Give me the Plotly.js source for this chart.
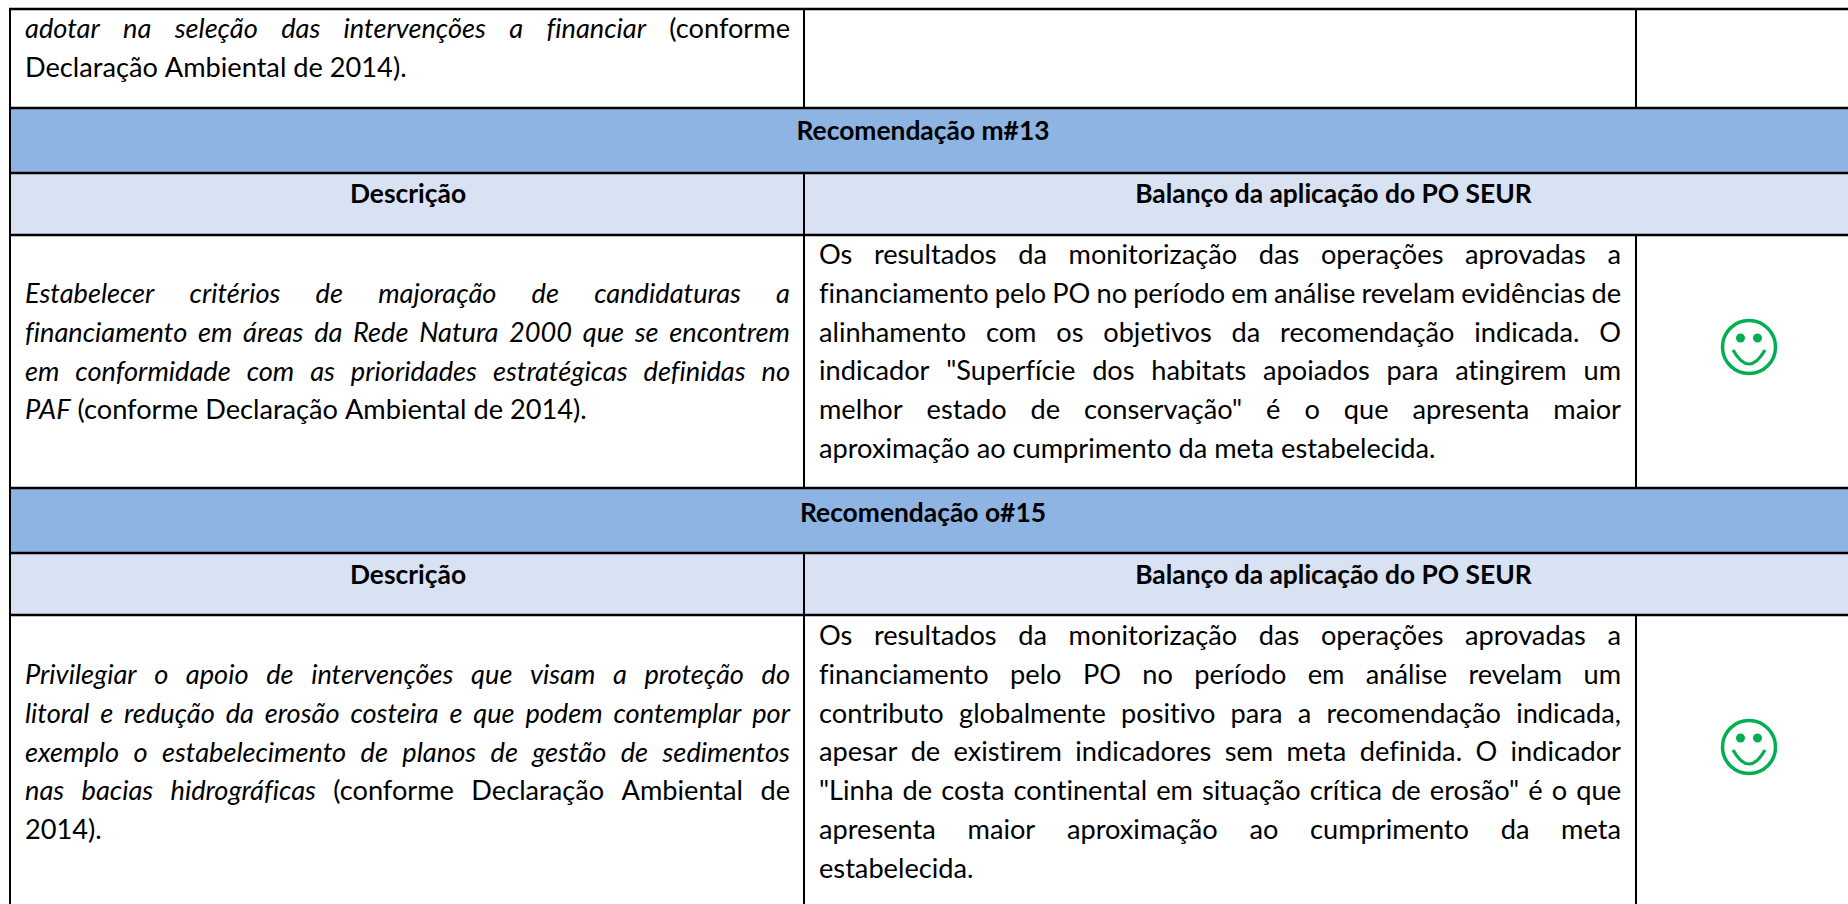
<!DOCTYPE html>
<html>
<head>
<meta charset="utf-8">
<script src="https://cdn.plot.ly/plotly-3.0.0.min.js"></script>
<style>html,body{margin:0;padding:0;background:#fff;overflow:hidden}#chart{width:1848px;height:904px}#chart text{font-variant-ligatures:none !important}</style>
</head>
<body>
<div id="chart"></div>
<script>
// ---- Table content ----
const sectionTitles = ["Recomendação m#13", "Recomendação o#15"];
const columnHeaders = ["Descrição", "Balanço da aplicação do PO SEUR"];

const topLeftLines = [
  "adotar na seleção das intervenções a financiar (conforme",
  "Declaração Ambiental de 2014)."
];
const topLeftItalicWords = [7, 0];

const m13DescriptionLines = [
  "Estabelecer critérios de majoração de candidaturas a",
  "financiamento em áreas da Rede Natura 2000 que se encontrem",
  "em conformidade com as prioridades estratégicas definidas no",
  "PAF (conforme Declaração Ambiental de 2014)."
];
const m13DescriptionItalicWords = [7, 10, 8, 1];

const m13BalanceLines = [
  "Os resultados da monitorização das operações aprovadas a",
  "financiamento pelo PO no período em análise revelam evidências de",
  "alinhamento com os objetivos da recomendação indicada. O",
  "indicador \"Superfície dos habitats apoiados para atingirem um",
  "melhor estado de conservação\" é o que apresenta maior",
  "aproximação ao cumprimento da meta estabelecida."
];

const o15DescriptionLines = [
  "Privilegiar o apoio de intervenções que visam a proteção do",
  "litoral e redução da erosão costeira e que podem contemplar por",
  "exemplo o estabelecimento de planos de gestão de sedimentos",
  "nas bacias hidrográficas (conforme Declaração Ambiental de",
  "2014)."
];
const o15DescriptionItalicWords = [10, 12, 9, 3, 0];

const o15BalanceLines = [
  "Os resultados da monitorização das operações aprovadas a",
  "financiamento pelo PO no período em análise revelam um",
  "contributo globalmente positivo para a recomendação indicada,",
  "apesar de existirem indicadores sem meta definida. O indicador",
  "\"Linha de costa continental em situação crítica de erosão\" é o que",
  "apresenta maior aproximação ao cumprimento da meta",
  "estabelecida."
];

// ---- Geometry and style (pixel scale of the hidden axes) ----
const W = 1848, H = 904;
const tableLeft = 10, colSplit = 804, iconSplit = 1636;
const rowLines = {top: 9, band1: 108, head1: 173, body1: 235, band2: 488, head2: 553, body2: 615};
const colText = {l1: 25, r1: 790, l2: 819, r2: 1621};
const centers = {title: 923, c1: 408, c2: 1333.5, icon: 1749};
const FONT = 'Lato, Carlito, Calibri, sans-serif';
const FS = 27.2, FS_BOLD = 26.4, INK = '#000000', GREEN = '#00B050';
const BAND = '#8EB4E3', HEAD = '#D9E2F3';
const BASE_SHIFT = 0.2; // baseline offset of a "middle" text point, in em

const ctx = document.createElement('canvas').getContext('2d');
function measure(t, style, weight) {
  ctx.font = `${style||'normal'} ${weight||'normal'} ${FS}px Lato`;
  ctx.letterSpacing = '0.001px';
  return ctx.measureText(t).width;
}

const regular = {x: [], y: [], text: []};
const italic = {x: [], y: [], text: []};

function addBlock(lines, italicCounts, left, right, firstBaseline, step) {
  lines.forEach((line, li) => {
    const words = line.split(' ');
    const nItalic = italicCounts ? italicCounts[li] : 0;
    const widths = words.map((w, i) => measure(w, i < nItalic ? 'italic' : 'normal'));
    const total = widths.reduce((a, b) => a + b, 0);
    const last = li === lines.length - 1;
    const gap = last || words.length < 2 ? measure(' ') : (right - left - total) / (words.length - 1);
    let x = left;
    const y = firstBaseline + step * li - BASE_SHIFT * FS;
    words.forEach((w, i) => {
      const target = i < nItalic ? italic : regular;
      target.x.push(x); target.y.push(y); target.text.push(w);
      x += widths[i] + gap;
    });
  });
}

const STEP = 38.7;
addBlock(topLeftLines, topLeftItalicWords, colText.l1, colText.r1, 37, STEP);
addBlock(m13DescriptionLines, m13DescriptionItalicWords, colText.l1, colText.r1, 302, STEP);
addBlock(m13BalanceLines, null, colText.l2, colText.r2, 263, STEP);
addBlock(o15DescriptionLines, o15DescriptionItalicWords, colText.l1, colText.r1, 683, STEP);
addBlock(o15BalanceLines, null, colText.l2, colText.r2, 644, STEP);

const boldX = [centers.title, centers.c1, centers.c2, centers.title, centers.c1, centers.c2];
const boldBase = [139, 202, 202, 521, 583, 583];
const boldText = [sectionTitles[0], columnHeaders[0], columnHeaders[1], sectionTitles[1], columnHeaders[0], columnHeaders[1]];

function textTrace(d, style, pos, weight, size) {
  return {
    type: 'scatter', mode: 'text', x: d.x, y: d.y, text: d.text,
    textposition: pos, hoverinfo: 'skip', showlegend: false, cliponaxis: false,
    textfont: {family: FONT, size: size, color: INK, style: style, weight: weight}
  };
}

const traces = [
  textTrace(regular, 'normal', 'middle right', 400, FS),
  textTrace(italic, 'italic', 'middle right', 400, FS),
  textTrace({x: boldX, y: boldBase.map(b => b - BASE_SHIFT * FS_BOLD), text: boldText}, 'normal', 'middle center', 700, FS_BOLD)
];

const shapes = [];
function rect(x0, y0, x1, y1, fill) {
  shapes.push({type: 'rect', xref: 'x', yref: 'y', x0, y0, x1, y1, fillcolor: fill, line: {width: 0}, layer: 'below'});
}
function line(x0, y0, x1, y1, w) {
  shapes.push({type: 'line', xref: 'x', yref: 'y', x0, y0, x1, y1, line: {color: INK, width: w}, layer: 'above'});
}
rect(tableLeft, rowLines.band1, W, rowLines.head1, BAND);
rect(tableLeft, rowLines.head1, W, rowLines.body1, HEAD);
rect(tableLeft, rowLines.band2, W, rowLines.head2, BAND);
rect(tableLeft, rowLines.head2, W, rowLines.body2, HEAD);

Object.values(rowLines).forEach(y => line(tableLeft - 1, y, W, y, 2.5));
line(tableLeft, rowLines.top, tableLeft, H, 2);
[[rowLines.top, rowLines.band1], [rowLines.head1, rowLines.body1], [rowLines.body1, rowLines.band2], [rowLines.head2, rowLines.body2], [rowLines.body2, H]]
  .forEach(([a, b]) => line(colSplit, a, colSplit, b, 2));
[[rowLines.top, rowLines.band1], [rowLines.body1, rowLines.band2], [rowLines.body2, H]]
  .forEach(([a, b]) => line(iconSplit, a, iconSplit, b, 2));

function smiley(cx, cy) {
  const s = {xref: 'x', yref: 'y', layer: 'above'};
  shapes.push({...s, type: 'circle', x0: cx - 26.5, x1: cx + 26.5, y0: cy - 26.5, y1: cy + 26.5, line: {color: GREEN, width: 3.5}});
  [-8.5, 8.5].forEach(dx => shapes.push({...s, type: 'circle', x0: cx + dx - 4.5, x1: cx + dx + 4.5, y0: cy - 13.5, y1: cy - 4.5, fillcolor: GREEN, line: {width: 0}}));
  shapes.push({...s, type: 'path', path: `M ${cx - 16} ${cy + 3} Q ${cx} ${cy + 31} ${cx + 16} ${cy + 3}`, line: {color: GREEN, width: 3.2}});
}
smiley(centers.icon, 347);
smiley(centers.icon, 747);

const axis = {visible: false, fixedrange: true, showgrid: false, zeroline: false};
Plotly.newPlot('chart', traces, {
  width: W, height: H,
  margin: {l: 0, r: 0, t: 0, b: 0, pad: 0},
  paper_bgcolor: '#ffffff', plot_bgcolor: '#ffffff',
  showlegend: false, hovermode: false,
  xaxis: {...axis, range: [0, W]},
  yaxis: {...axis, range: [H, 0]},
  shapes
}, {displayModeBar: false, staticPlot: true});
</script>
</body>
</html>
